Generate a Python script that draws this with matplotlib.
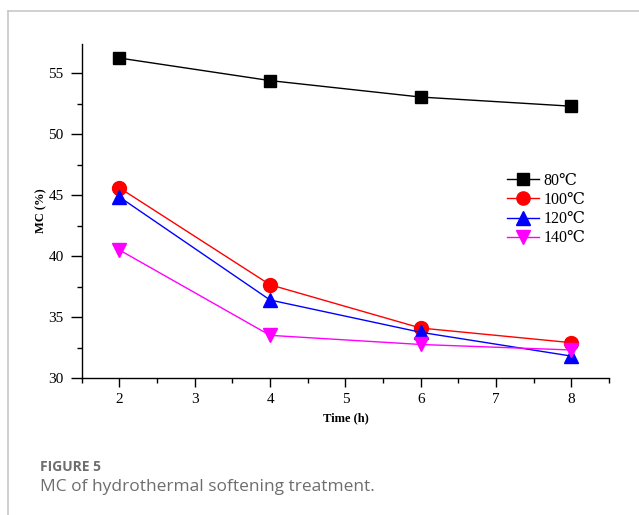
import numpy as np
import matplotlib
matplotlib.use("Agg")
import matplotlib.pyplot as plt
from matplotlib.ticker import MultipleLocator
from matplotlib.lines import Line2D

# 数据
time_h = [2, 4, 6, 8]
mc_80 = [56.25, 54.4, 53.05, 52.3]
mc_100 = [45.6, 37.65, 34.1, 32.9]
mc_120 = [44.85, 36.4, 33.75, 31.8]
mc_140 = [40.5, 33.5, 32.75, 32.3]
labels = ["80℃", "100℃", "120℃", "140℃"]

serif = ["Liberation Serif", "DejaVu Serif"]

fig = plt.figure(figsize=(6.39, 5.15), dpi=100)
ax = fig.add_axes([0.128, 0.266, 0.825, 0.6485])

ax.plot(time_h, mc_80, color="black", lw=1.0, marker="s", ms=9, label=labels[0])
ax.plot(time_h, mc_100, color="red", lw=1.0, marker="o", ms=10, label=labels[1])
ax.plot(time_h, mc_120, color="blue", lw=1.0, marker="^", ms=10.5, label=labels[2])
ax.plot(time_h, mc_140, color="magenta", lw=1.0, marker="v", ms=10.5, label=labels[3])

ax.set_xlim(1.5, 8.5)
ax.set_ylim(30, 57.4)
ax.xaxis.set_major_locator(MultipleLocator(1))
ax.xaxis.set_minor_locator(MultipleLocator(0.5))
ax.yaxis.set_major_locator(MultipleLocator(5))
ax.yaxis.set_minor_locator(MultipleLocator(2.5))

for s in ["top", "right"]:
    ax.spines[s].set_visible(False)
for s in ["left", "bottom"]:
    ax.spines[s].set_linewidth(1.0)

ax.tick_params(axis="x", which="major", direction="out", length=6.5, width=1.0, pad=4)
ax.tick_params(axis="y", which="major", direction="out", length=8, width=1.0, pad=5)
ax.tick_params(which="minor", direction="out", length=3.5, width=1.0)
for t in ax.get_xticklabels() + ax.get_yticklabels():
    t.set_fontfamily(serif)
    t.set_fontsize(11)

ax.set_xlabel("Time (h)", fontfamily=serif, fontweight="bold", fontsize=9, labelpad=5)
ax.set_ylabel("MC (%)", fontfamily=serif, fontweight="bold", fontsize=9, labelpad=1)

leg = ax.legend(loc="upper left", bbox_to_anchor=(0.785, 0.648), frameon=False,
                prop={"family": serif, "size": 11.5}, handlelength=2.0,
                labelspacing=0.2, handletextpad=0.3, borderpad=0.2, markerscale=0.95)

# 外框和图注
fig.add_artist(Line2D([0.013, 1.0], [0.979, 0.979], color="#c8c8c8", lw=1.2,
                      transform=fig.transFigure))
fig.add_artist(Line2D([0.013, 0.013], [0.979, 0.0], color="#c8c8c8", lw=1.2,
                      transform=fig.transFigure))
fig.text(0.063, 0.093, "FIGURE 5", fontfamily="Open Sans", fontweight="bold",
         fontsize=10, color="#6e6e6e", va="center")
fig.text(0.063, 0.054, "MC of hydrothermal softening treatment.", fontfamily="Open Sans",
         fontsize=12.5, color="#6e6e6e", va="center")

fig.savefig("out.png", dpi=100)
